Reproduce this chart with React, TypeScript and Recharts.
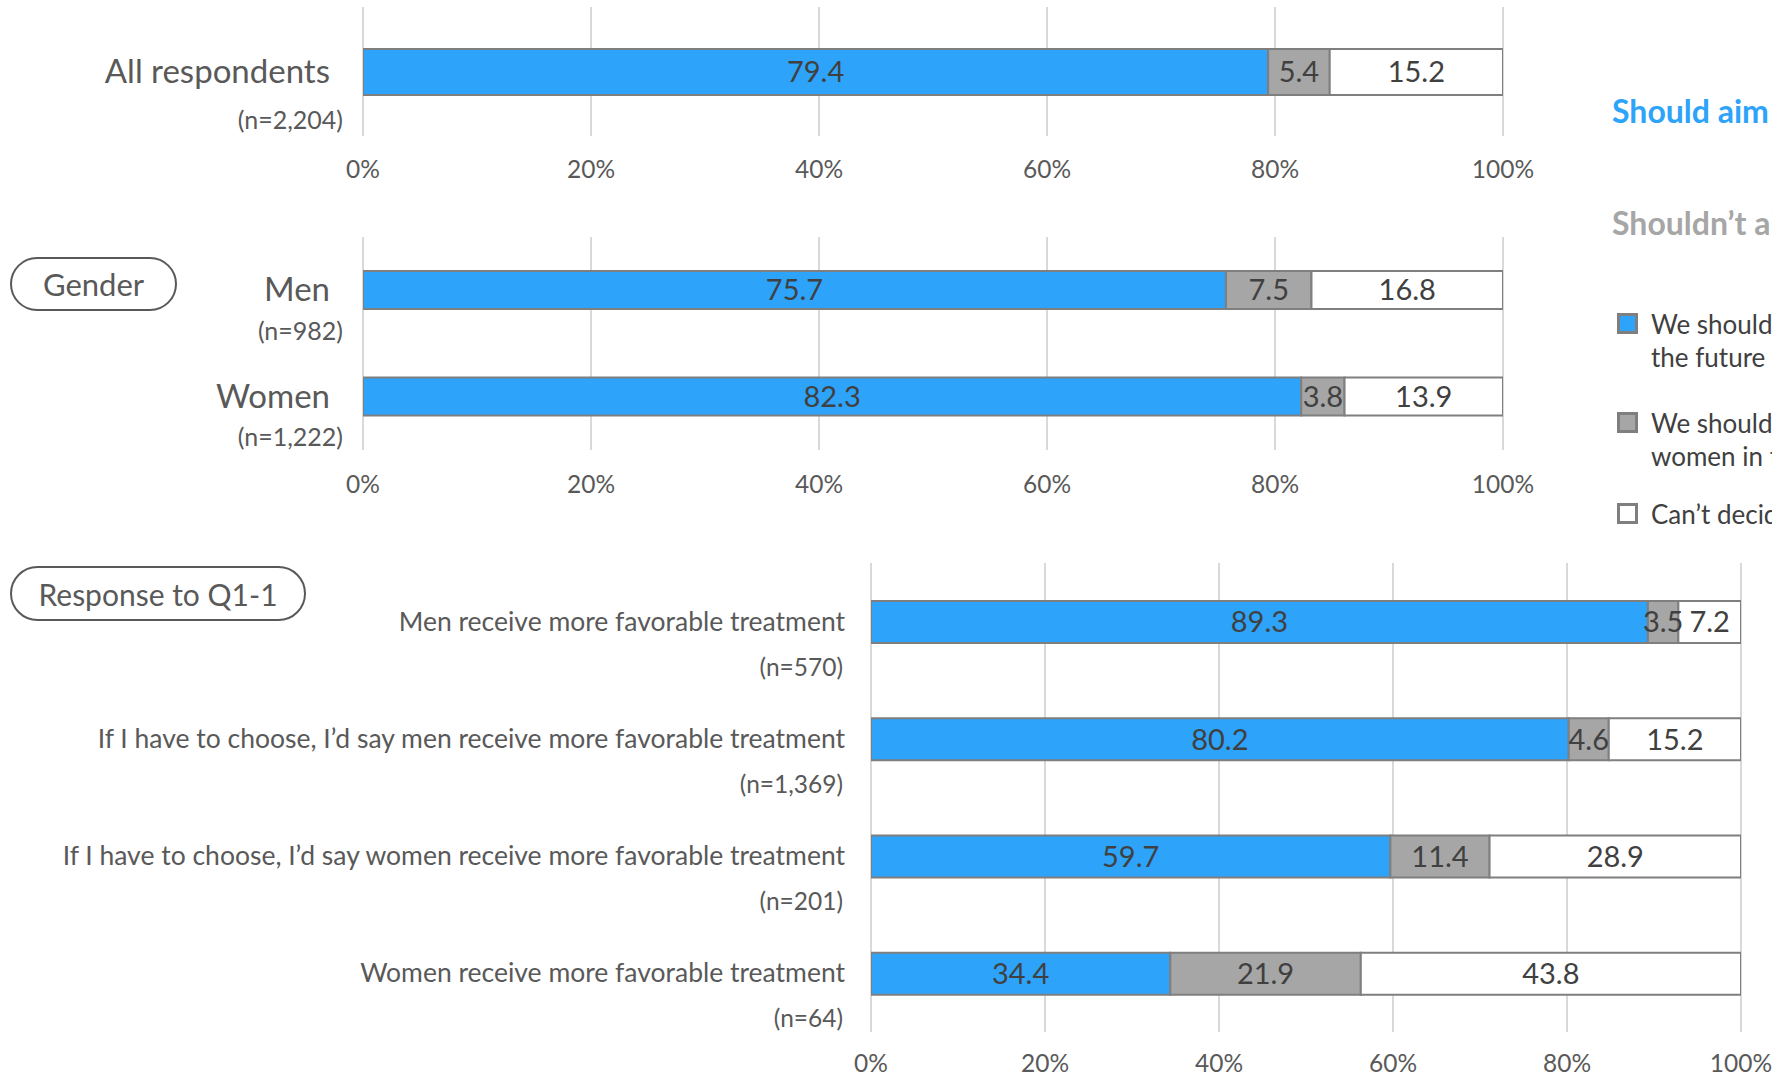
import React from 'react';
import { BarChart, Bar, XAxis, YAxis, CartesianGrid, LabelList } from 'recharts';

// ---------- data ----------
const allLabels = ['All respondents'];
const allN = ['(n=2,204)'];
const allAim = [79.4];
const allNotAim = [5.4];
const allUndecided = [15.2];

const genderLabels = ['Men', 'Women'];
const genderN = ['(n=982)', '(n=1,222)'];
const genderAim = [75.7, 82.3];
const genderNotAim = [7.5, 3.8];
const genderUndecided = [16.8, 13.9];

const q1Labels = [
  'Men receive more favorable treatment',
  'If I have to choose, I\u2019d say men receive more favorable treatment',
  'If I have to choose, I\u2019d say women receive more favorable treatment',
  'Women receive more favorable treatment',
];
const q1N = ['(n=570)', '(n=1,369)', '(n=201)', '(n=64)'];
const q1Aim = [89.3, 80.2, 59.7, 34.4];
const q1NotAim = [3.5, 4.6, 11.4, 21.9];
const q1Undecided = [7.2, 15.2, 28.9, 43.8];

const xTicks = [0, 20, 40, 60, 80, 100];

const legendHeaders = ['Should aim for gender equality', 'Shouldn\u2019t aim for gender equality'];
const legendItems = [
  ['We should aim for gender equality in', 'the future'],
  ['We shouldn\u2019t aim for equality between men and', 'women in the future'],
  ['Can\u2019t decide'],
];

// ---------- styles ----------
const BLUE = '#2DA3FA';
const GRAY = '#A6A6A6';
const WHITE = '#FFFFFF';
const BORDER = '#7F7F7F';
const TEXT = '#404040';
const LABEL = '#595959';
const GRID = '#D9D9D9';
const FONT = 'Lato, "Noto Sans", sans-serif';

const build = (labels: string[], ns: string[], a: number[], b: number[], c: number[]) =>
  labels.map((label, i) => ({ label, n: ns[i], aim: a[i], notAim: b[i], undecided: c[i] }));

const allData = build(allLabels, allN, allAim, allNotAim, allUndecided);
const genderData = build(genderLabels, genderN, genderAim, genderNotAim, genderUndecided);
const q1Data = build(q1Labels, q1N, q1Aim, q1NotAim, q1Undecided);

type Cfg = {
  labelGap: number;
  labelSize: number;
  labelDy: number;
  nGap: number;
  nDy: number;
  nSize: number;
};

const makeYTick = (data: { label: string; n: string }[], cfg: Cfg) => (props: any) => {
  const { x, y, payload } = props;
  const row = data.find((d) => d.label === payload.value);
  return (
    <g>
      <text
        x={x - cfg.labelGap}
        y={y + cfg.labelDy}
        textAnchor="end"
        dominantBaseline="central"
        fontSize={cfg.labelSize}
        fill={LABEL}
        fontFamily={FONT}
      >
        {payload.value}
      </text>
      <text
        x={x - cfg.nGap}
        y={y + cfg.nDy}
        textAnchor="end"
        dominantBaseline="central"
        fontSize={cfg.nSize}
        fill={LABEL}
        fontFamily={FONT}
      >
        {row ? row.n : ''}
      </text>
    </g>
  );
};

const makeXTick = (dy: number) => (props: any) => {
  const { x, y, payload } = props;
  return (
    <text
      x={x}
      y={y + dy}
      textAnchor="middle"
      dominantBaseline="central"
      fontSize={24.5}
      fill={LABEL}
      fontFamily={FONT}
    >
      {`${payload.value}%`}
    </text>
  );
};

type PanelProps = {
  data: any[];
  top: number;
  plotBottom: number;
  axisHeight: number;
  marginTop: number;
  axisWidth: number;
  marginRight: number;
  barSize: number;
  cfg: Cfg;
  tickDy: number;
};

function Panel({ data, top, plotBottom, axisHeight, marginTop, axisWidth, marginRight, barSize, cfg, tickDy }: PanelProps) {
  const labelProps = { position: 'center' as const, fill: TEXT, fontSize: 29, fontFamily: FONT };
  return (
    <div style={{ position: 'absolute', left: 0, top }}>
      <BarChart
        width={1772}
        height={plotBottom + axisHeight}
        data={data}
        layout="vertical"
        margin={{ top: marginTop, right: marginRight, left: 0, bottom: 0 }}
      >
        <CartesianGrid horizontal={false} stroke={GRID} strokeWidth={2} />
        <XAxis
          type="number"
          domain={[0, 100]}
          allowDataOverflow
          ticks={xTicks}
          axisLine={false}
          tickLine={false}
          tickSize={0}
          tickMargin={0}
          height={axisHeight}
          interval={0}
          tick={makeXTick(tickDy)}
        />
        <YAxis
          type="category"
          dataKey="label"
          width={axisWidth}
          axisLine={false}
          tickLine={false}
          tickSize={0}
          tickMargin={0}
          interval={0}
          tick={makeYTick(data, cfg)}
        />
        <Bar dataKey="aim" stackId="s" fill={BLUE} stroke={BORDER} strokeWidth={2} barSize={barSize} isAnimationActive={false}>
          <LabelList dataKey="aim" {...labelProps} />
        </Bar>
        <Bar dataKey="notAim" stackId="s" fill={GRAY} stroke={BORDER} strokeWidth={2} barSize={barSize} isAnimationActive={false}>
          <LabelList dataKey="notAim" {...labelProps} />
        </Bar>
        <Bar dataKey="undecided" stackId="s" fill={WHITE} stroke={BORDER} strokeWidth={2} barSize={barSize} isAnimationActive={false}>
          <LabelList dataKey="undecided" {...labelProps} />
        </Bar>
      </BarChart>
    </div>
  );
}

const pillStyle: React.CSSProperties = {
  position: 'absolute',
  boxSizing: 'border-box',
  border: `2px solid ${LABEL}`,
  display: 'flex',
  alignItems: 'center',
  justifyContent: 'center',
  color: LABEL,
  fontFamily: FONT,
  whiteSpace: 'nowrap',
};

export default function App() {
  const swatches = [BLUE, GRAY, WHITE];
  const itemTops = [313, 412, 503];
  return (
    <div
      style={{
        position: 'absolute',
        left: 0,
        top: 0,
        width: 1772,
        height: 1077,
        overflow: 'hidden',
        background: '#fff',
        fontFamily: FONT,
      }}
    >
      <Panel
        data={allData}
        top={0}
        plotBottom={136}
        axisHeight={62}
        marginTop={7}
        axisWidth={363}
        marginRight={1772 - 1503}
        barSize={46}
        tickDy={32}
        cfg={{ labelGap: 33, labelSize: 33, labelDy: -2, nGap: 20, nDy: 47.5, nSize: 25 }}
      />
      <Panel
        data={genderData}
        top={200}
        plotBottom={250}
        axisHeight={62}
        marginTop={37}
        axisWidth={363}
        marginRight={1772 - 1503}
        barSize={38}
        tickDy={33}
        cfg={{ labelGap: 33, labelSize: 33, labelDy: -2, nGap: 20, nDy: 39.5, nSize: 25 }}
      />
      <Panel
        data={q1Data}
        top={530}
        plotBottom={502}
        axisHeight={45}
        marginTop={33}
        axisWidth={871}
        marginRight={1772 - 1741}
        barSize={42}
        tickDy={30}
        cfg={{ labelGap: 26, labelSize: 26.5, labelDy: -1, nGap: 28, nDy: 44.5, nSize: 24.5 }}
      />

      <div style={{ ...pillStyle, left: 10, top: 257, width: 167, height: 54, borderRadius: 27, fontSize: 31 }}>Gender</div>
      <div style={{ ...pillStyle, left: 10, top: 566, width: 296, height: 55, borderRadius: 28, fontSize: 30 }}>
        Response to Q1-1
      </div>

      <div
        style={{
          position: 'absolute',
          left: 1612,
          top: 111 - 20,
          height: 40,
          lineHeight: '40px',
          fontSize: 32,
          fontWeight: 700,
          color: BLUE,
          whiteSpace: 'nowrap',
        }}
      >
        {legendHeaders[0]}
      </div>
      <div
        style={{
          position: 'absolute',
          left: 1612,
          top: 223 - 20,
          height: 40,
          lineHeight: '40px',
          fontSize: 32,
          fontWeight: 700,
          color: GRAY,
          whiteSpace: 'nowrap',
        }}
      >
        {legendHeaders[1]}
      </div>

      {legendItems.map((lines, i) => (
        <React.Fragment key={i}>
          <div
            style={{
              position: 'absolute',
              left: 1617,
              top: itemTops[i],
              width: 21,
              height: 21,
              boxSizing: 'border-box',
              border: `3px solid ${BORDER}`,
              background: swatches[i],
            }}
          />
          <div
            style={{
              position: 'absolute',
              left: 1651,
              top: itemTops[i] + 11 - 16.5,
              fontSize: 26,
              lineHeight: '33px',
              color: TEXT,
              whiteSpace: 'nowrap',
            }}
          >
            {lines.map((l, j) => (
              <div key={j}>{l}</div>
            ))}
          </div>
        </React.Fragment>
      ))}
    </div>
  );
}
